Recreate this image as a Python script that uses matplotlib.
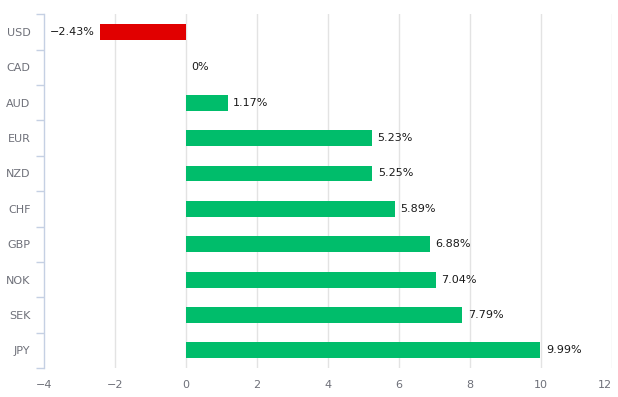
import matplotlib
matplotlib.use("Agg")
import matplotlib.pyplot as plt
import numpy as np

currencies = ["USD", "CAD", "AUD", "EUR", "NZD", "CHF", "GBP", "NOK", "SEK", "JPY"]
changes = [-2.43, 0.0, 1.17, 5.23, 5.25, 5.89, 6.88, 7.04, 7.79, 9.99]
xticks = [-4, -2, 0, 2, 4, 6, 8, 10, 12]

green = "#00bd6b"
red = "#e10000"
axis_col = "#c5d0e3"
grid_col = "#e3e3e3"

plt.rcParams['font.family'] = ['DejaVu Sans']

fig = plt.figure(figsize=(6.18, 3.97), dpi=100)
ax = fig.add_axes([44.3 / 618, 1 - 368 / 397, (611.5 - 44.3) / 618, (368 - 14.3) / 397])

y = np.arange(len(currencies))
colors = [red if v < 0 else green for v in changes]
ax.barh(y, changes, height=0.45, color=colors, zorder=3)

for yi, v in zip(y, changes):
    if v == 0:
        txt = "0%"
    else:
        txt = ("%.2f%%" % v).replace("-", "\u2212")
    if v < 0:
        ax.annotate(txt, (v, yi), xytext=(-4, 0), textcoords="offset points",
                    ha="right", va="center", fontsize=8, color="#1a1a1a")
    else:
        ax.annotate(txt, (v, yi), xytext=(4, 0), textcoords="offset points",
                    ha="left", va="center", fontsize=8, color="#1a1a1a")

ax.set_xlim(-4, 12)
ax.set_ylim(len(currencies) - 0.5, -0.5)
ax.set_xticks(xticks)
ax.set_xticklabels([str(t).replace("-", "\u2212") for t in xticks])
ax.get_xticklabels()[-1].set_ha("right")
ax.set_yticks(y)
ax.set_yticklabels(currencies)
ax.set_yticks(np.arange(-0.5, len(currencies)), minor=True)

for t in xticks[1:]:
    ax.axvline(t, color=grid_col, lw=1, zorder=1)

for s in ["top", "right", "bottom"]:
    ax.spines[s].set_visible(False)
ax.spines["left"].set_color(axis_col)
ax.spines["left"].set_linewidth(1)

ax.tick_params(axis="x", length=0, pad=9, labelsize=8, colors="#6e7079")
ax.tick_params(axis="y", which="major", length=0, pad=10, labelsize=8, colors="#6e7079")
ax.tick_params(axis="y", which="minor", length=6, width=1, color=axis_col)

fig.savefig("out.png", dpi=100)
